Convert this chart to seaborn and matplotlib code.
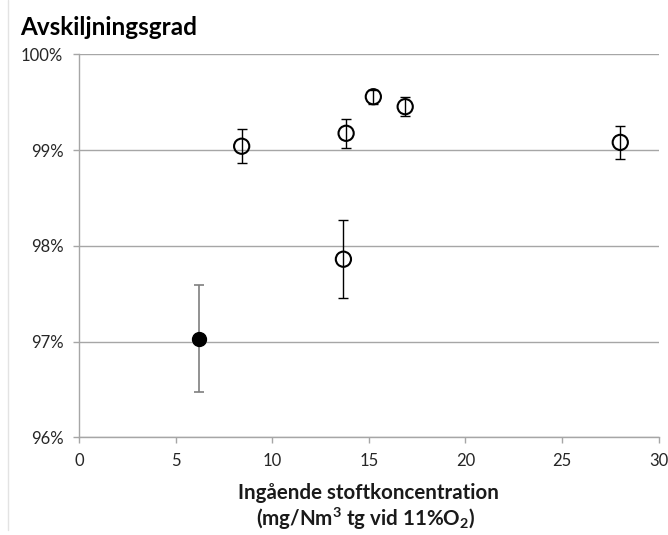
import matplotlib
matplotlib.use("Agg")
import matplotlib.pyplot as plt
import seaborn as sns
import pandas as pd
from matplotlib.ticker import FuncFormatter, MultipleLocator
from matplotlib.lines import Line2D

# Data
x_open = [8.41, 13.82, 15.23, 16.88, 28.02, 13.68]
y_open = [99.04, 99.175, 99.557, 99.453, 99.08, 97.86]
err_open = [0.18, 0.15, 0.075, 0.10, 0.174, 0.405]
x_filled = [6.2]
y_filled = [97.03]
err_filled = [0.557]

title = "Avskiljningsgrad"
xlabel_line1 = "Ingående stoftkoncentration"
xlabel_line2 = "(mg/Nm$^{3}$ tg vid 11%O$_{2}$)"

sns.set_theme(style="white")
plt.rcParams['font.family'] = ['Lato', 'DejaVu Sans']
plt.rcParams['mathtext.fontset'] = 'custom'
plt.rcParams['mathtext.rm'] = 'Lato:bold'
plt.rcParams['mathtext.default'] = 'rm'

W, H = 668, 535
fig = plt.figure(figsize=(W / 100, H / 100), dpi=100)
ax = fig.add_axes([79.3 / W, 1 - 437.3 / H, (658.5 - 79.3) / W, (437.3 - 54.3) / H])

df_open = pd.DataFrame({"x": x_open, "y": y_open})
df_filled = pd.DataFrame({"x": x_filled, "y": y_filled})

ax.errorbar(x_filled, y_filled, yerr=err_filled, fmt='none', ecolor='#7f7f7f',
            elinewidth=1.2, capsize=3.3, capthick=1.2, zorder=2)
ax.errorbar(x_open, y_open, yerr=err_open, fmt='none', ecolor='black',
            elinewidth=1.0, capsize=3.3, capthick=1.0, zorder=2)
sns.scatterplot(data=df_open, x="x", y="y", ax=ax, marker='o', s=120,
                facecolor='none', edgecolor='black', linewidth=1.5, zorder=3)
sns.scatterplot(data=df_filled, x="x", y="y", ax=ax, marker='o', s=100,
                color='black', edgecolor='black', linewidth=1, zorder=3)

ax.set_xlim(0, 30)
ax.set_ylim(96, 100)
ax.xaxis.set_major_locator(MultipleLocator(5))
ax.yaxis.set_major_locator(MultipleLocator(1))
ax.yaxis.set_major_formatter(FuncFormatter(lambda v, p: f"{int(round(v))}%"))
ax.grid(axis='y', color='#a6a6a6', linewidth=1.0)
ax.grid(axis='x', visible=False)
for s in ['top', 'right']:
    ax.spines[s].set_visible(False)
for s in ['left', 'bottom']:
    ax.spines[s].set_color('#a6a6a6')
    ax.spines[s].set_linewidth(1.0)
ax.tick_params(axis='x', direction='out', length=4.5, width=1, color='#a6a6a6',
               labelsize=12, pad=7, labelcolor='#262626', bottom=True)
ax.tick_params(axis='y', direction='out', length=4.5, width=1, color='#a6a6a6',
               labelsize=12, pad=7, labelcolor='#262626', left=True)

ax.set_xlabel("")
ax.set_ylabel("")
cx = 368.5 / W
fig.text(cx, 1 - 499 / H, xlabel_line1, fontsize=14.8, fontweight='bold',
         color='#1a1a1a', ha='center', va='baseline')
fig.text(366 / W, 1 - 526 / H, xlabel_line2, fontsize=14.8, fontweight='bold',
         color='#1a1a1a', ha='center', va='baseline')
fig.text(20.5 / W, 1 - 35 / H, title, fontsize=17.5, fontweight='bold', color='black',
         ha='left', va='baseline')

fig.add_artist(Line2D([7.5 / W, 7.5 / W], [5 / H, 1.0],
                      transform=fig.transFigure, color='#e3e3e3', linewidth=1))

fig.savefig("out.png", dpi=100)
